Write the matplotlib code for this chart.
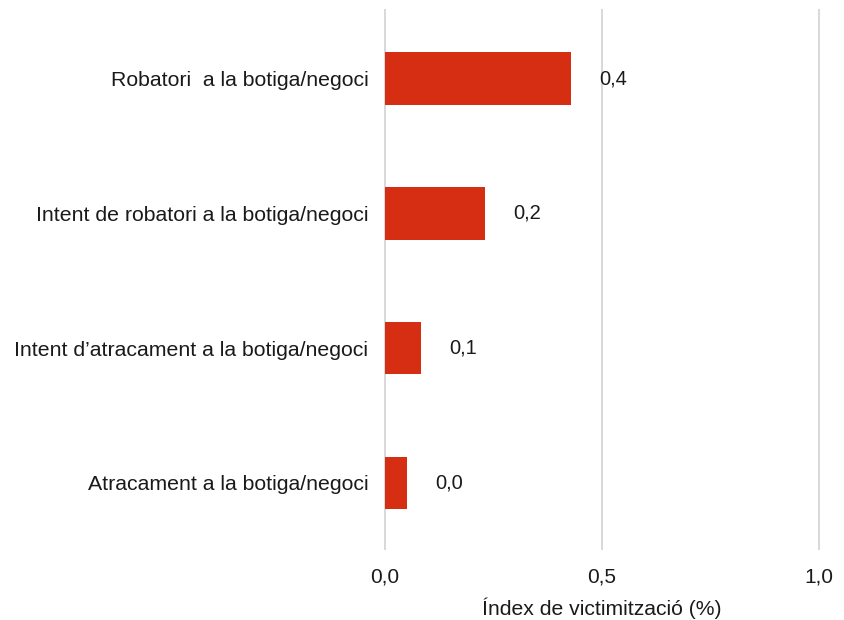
import matplotlib
matplotlib.use("Agg")
import matplotlib.pyplot as plt
from matplotlib.transforms import offset_copy

categories = [
    "Robatori  a la botiga/negoci",
    "Intent de robatori a la botiga/negoci",
    "Intent d\u2019atracament a la botiga/negoci",
    "Atracament a la botiga/negoci",
]
values = [0.429, 0.230, 0.083, 0.051]
value_labels = ["0,4", "0,2", "0,1", "0,0"]
xticks = [0.0, 0.5, 1.0]
xtick_labels = ["0,0", "0,5", "1,0"]

fig = plt.figure(figsize=(8.45, 6.2), dpi=100)
ax = fig.add_axes([385 / 845, 1 - 549 / 620, 434 / 845, 539 / 620])

ypos = list(range(len(categories)))
ax.barh(ypos, values, height=0.39, color="#D52E13", zorder=3)
ax.set_ylim(3.49, -0.51)
ax.set_xlim(0, 1.0)

ax.set_yticks(ypos)
ax.set_yticklabels(categories, fontfamily="Liberation Sans", fontsize=15.3, color="#1a1a1a")
ax.set_xticks(xticks)
ax.set_xticklabels(xtick_labels, fontfamily="Liberation Sans", fontsize=15, color="#1a1a1a")
ax.tick_params(axis="y", length=0, pad=12)
ax.tick_params(axis="x", length=0, pad=13)
ax.set_xlabel("\u00cdndex de victimitzaci\u00f3 (%)", fontfamily="Liberation Sans",
              fontsize=15.2, color="#1a1a1a", labelpad=8)

ax.grid(axis="x", color="#d9d9d9", linewidth=1.44, zorder=0)
for gl in ax.get_xgridlines():
    gl.set_clip_on(False)
for s in ax.spines.values():
    s.set_visible(False)

tr = offset_copy(ax.transData, fig=fig, x=28, y=0, units="dots")
for y, v, lab in zip(ypos, values, value_labels):
    ax.text(v, y, lab, transform=tr, ha="left", va="center", fontsize=14.5,
            fontfamily="Liberation Sans", color="#1a1a1a")

fig.savefig("out.png", dpi=100)
